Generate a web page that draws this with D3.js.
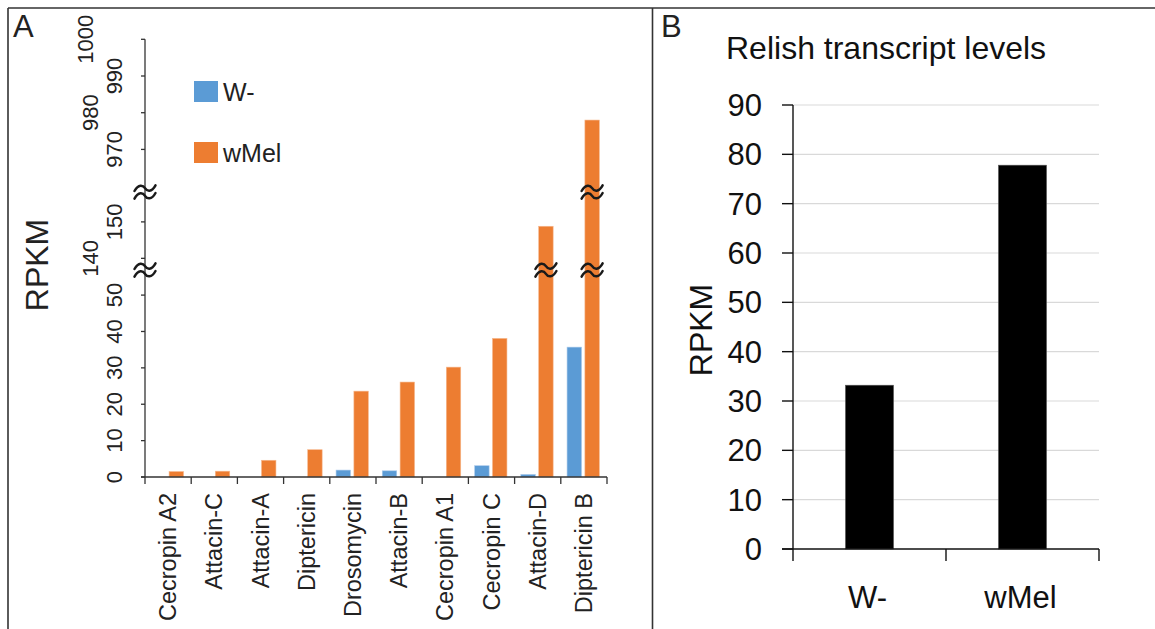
<!DOCTYPE html>
<html>
<head>
<meta charset="utf-8">
<script src="https://cdn.jsdelivr.net/npm/d3@7"></script>
<style>
  html, body { margin: 0; padding: 0; background: #fff; }
  svg { display: block; font-family: "Liberation Sans", Arial, sans-serif; }
</style>
</head>
<body>
<svg id="chart" width="1155" height="629"></svg>
<script>
// ---------- Data ----------
const categories = ["Cecropin A2", "Attacin-C", "Attacin-A", "Diptericin", "Drosomycin",
                    "Attacin-B", "Cecropin A1", "Cecropin C", "Attacin-D", "Diptericin B"];
const seriesNames = ["W-", "wMel"];
const wMinusValues = [0, 0, 0, 0, 1.9, 1.7, 0, 3.1, 0.7, 35.7];
const wMelValues = [1.5, 1.6, 4.6, 7.5, 23.6, 26.1, 30.2, 38.1, 148.8, 978];
const yTicksA = [0, 10, 20, 30, 40, 50, 140, 150, 970, 980, 990, 1000];
// axis breaks (value where lower segment ends, value where the next segment starts)
const axisBreaks = [[56.9, 136.8], [158.2, 958.4]];

const relishGroups = ["W-", "wMel"];
const relishValues = [33.2, 77.8];
const yTicksB = [0, 10, 20, 30, 40, 50, 60, 70, 80, 90];

const colors = { "W-": "#5B9BD5", "wMel": "#ED7D31" };

const svg = d3.select("#chart");

// ---------- Frame ----------
svg.append("line").attr("x1", 8).attr("x2", 1155).attr("y1", 8).attr("y2", 8)
  .attr("stroke", "#333").attr("stroke-width", 1.6);
svg.append("line").attr("x1", 8).attr("x2", 8).attr("y1", 8).attr("y2", 629)
  .attr("stroke", "#333").attr("stroke-width", 1.6);
svg.append("line").attr("x1", 652.5).attr("x2", 652.5).attr("y1", 8).attr("y2", 629)
  .attr("stroke", "#333").attr("stroke-width", 1.6);

svg.append("text").attr("x", 13).attr("y", 37).attr("font-size", 31).attr("fill", "#222").text("A");
svg.append("text").attr("x", 661).attr("y", 37).attr("font-size", 31).attr("fill", "#222").text("B");

// ---------- Panel A ----------
const yBreakPx = [270, 192];
const yA = d3.scaleLinear()
  .domain([0, axisBreaks[0][0], axisBreaks[0][1], axisBreaks[1][0], axisBreaks[1][1], 1000])
  .range([477, yBreakPx[0], yBreakPx[0], yBreakPx[1], yBreakPx[1], 39.3]);

const x0 = d3.scaleBand().domain(categories).range([145, 607]).padding(0);
const x1 = d3.scaleBand().domain(seriesNames).range([0, x0.bandwidth()])
  .paddingInner(0.19).paddingOuter(0.39).align(0.45);

const gA = svg.append("g");
const seriesData = [wMinusValues, wMelValues];

categories.forEach((c, i) => {
  seriesNames.forEach((s, j) => {
    const v = seriesData[j][i];
    if (v <= 0) return;
    gA.append("rect")
      .attr("x", x0(c) + x1(s))
      .attr("width", x1.bandwidth())
      .attr("y", yA(v))
      .attr("height", yA(0) - yA(v))
      .attr("fill", colors[s])
      .attr("stroke", s === "wMel" ? "#F6B88E" : "#A9C9EA")
      .attr("stroke-width", 0.6);
  });
});

// break symbol (≈ drawn as two tildes)
function breakMark(g, cx, cy) {
  const tilde = "M-10.5,2.8 C-6.5,-4.5 -2,-3.2 0,0 S6.5,4.5 10.5,-2.8";
  [-3.8, 3.8].forEach(dy => {
    g.append("path")
      .attr("d", tilde)
      .attr("transform", `translate(${cx},${cy + dy})`)
      .attr("fill", "none")
      .attr("stroke", "#1a1a1a")
      .attr("stroke-width", 2.5)
      .attr("stroke-linecap", "round");
  });
}

// Axes A
const axisColor = "#333";
gA.append("line").attr("x1", 145).attr("x2", 145).attr("y1", yA(1000)).attr("y2", yA(0))
  .attr("stroke", axisColor).attr("stroke-width", 1.3);
gA.append("line").attr("x1", 141).attr("x2", 607).attr("y1", yA(0)).attr("y2", yA(0))
  .attr("stroke", axisColor).attr("stroke-width", 1.3);
yTicksA.forEach(t => {
  gA.append("line").attr("x1", 141).attr("x2", 145).attr("y1", yA(t)).attr("y2", yA(t))
    .attr("stroke", axisColor).attr("stroke-width", 1.3);
});
// y tick labels (rotated, staggered where Excel staggered them)
const staggerShift = { 1000: 29, 980: 24, 140: 24 };
yTicksA.forEach(t => {
  const bx = 122 - (staggerShift[t] || 0);
  gA.append("text")
    .attr("transform", `translate(${bx},${yA(t)}) rotate(-90)`)
    .attr("text-anchor", "middle")
    .attr("font-size", 22)
    .attr("fill", "#222")
    .text(t);
});
const bounds = categories.map(c => x0(c)).concat([x0.range()[1]]);
bounds.forEach(bx => {
  gA.append("line").attr("x1", bx).attr("x2", bx).attr("y1", yA(0)).attr("y2", yA(0) + 7)
    .attr("stroke", axisColor).attr("stroke-width", 1.3);
});
categories.forEach(c => {
  gA.append("text")
    .attr("transform", `translate(${x0(c) + x0.bandwidth() / 2 + 8},${493}) rotate(-90)`)
    .attr("text-anchor", "end")
    .attr("font-size", 23.5)
    .attr("fill", "#222")
    .text(c);
});

yBreakPx.forEach(py => breakMark(gA, 145, py));
categories.forEach((c, i) => {
  seriesNames.forEach((s, j) => {
    const v = seriesData[j][i];
    axisBreaks.forEach((br, k) => {
      if (v > br[1]) breakMark(gA, x0(c) + x1(s) + x1.bandwidth() / 2, yBreakPx[k]);
    });
  });
});

gA.append("text")
  .attr("transform", "translate(48,265) rotate(-90)")
  .attr("text-anchor", "middle")
  .attr("font-size", 32)
  .attr("fill", "#222")
  .text("RPKM");

seriesNames.forEach((s, i) => {
  const ly = 81 + i * 61;
  gA.append("rect").attr("x", 194).attr("y", ly).attr("width", 24).attr("height", 21)
    .attr("fill", colors[s]);
  gA.append("text").attr("x", 223).attr("y", ly + 19.5).attr("font-size", 25)
    .attr("fill", "#222").text(s);
});

// ---------- Panel B ----------
const gB = svg.append("g");
const yB = d3.scaleLinear().domain([0, 90]).range([549, 105]);
const xB = d3.scaleBand().domain(relishGroups).range([793, 1099])
  .paddingInner(0.686).paddingOuter(0.343);

yTicksB.forEach(t => {
  if (t === 0) return;
  gB.append("line").attr("x1", 793).attr("x2", 1099).attr("y1", yB(t)).attr("y2", yB(t))
    .attr("stroke", "#d9d9d9").attr("stroke-width", 1.2);
});

relishGroups.forEach((g, i) => {
  gB.append("rect")
    .attr("x", xB(g)).attr("width", xB.bandwidth())
    .attr("y", yB(relishValues[i])).attr("height", yB(0) - yB(relishValues[i]))
    .attr("fill", "#000").attr("stroke", "#555").attr("stroke-width", 0.6);
});

gB.append("line").attr("x1", 793).attr("x2", 793).attr("y1", yB(90)).attr("y2", yB(0))
  .attr("stroke", "#111").attr("stroke-width", 1.4);
gB.append("line").attr("x1", 782).attr("x2", 1099).attr("y1", yB(0)).attr("y2", yB(0))
  .attr("stroke", "#111").attr("stroke-width", 1.4);
yTicksB.forEach(t => {
  gB.append("line").attr("x1", 782).attr("x2", 793).attr("y1", yB(t)).attr("y2", yB(t))
    .attr("stroke", "#111").attr("stroke-width", 1.4);
  gB.append("text").attr("x", 762).attr("y", yB(t) + 11)
    .attr("text-anchor", "end").attr("font-size", 31).attr("fill", "#111").text(t);
});
const bBounds = [793, 946, 1099];
bBounds.forEach(bx => {
  gB.append("line").attr("x1", bx).attr("x2", bx).attr("y1", yB(0)).attr("y2", yB(0) + 12)
    .attr("stroke", "#111").attr("stroke-width", 1.4);
});
relishGroups.forEach(g => {
  gB.append("text").attr("x", xB(g) + xB.bandwidth() / 2 - 2).attr("y", 608)
    .attr("text-anchor", "middle").attr("font-size", 31).attr("fill", "#111").text(g);
});

gB.append("text").attr("x", 726).attr("y", 59).attr("font-size", 32).attr("fill", "#111")
  .text("Relish transcript levels");
gB.append("text")
  .attr("transform", "translate(712,330) rotate(-90)")
  .attr("text-anchor", "middle")
  .attr("font-size", 32)
  .attr("fill", "#111")
  .text("RPKM");
</script>
</body>
</html>
